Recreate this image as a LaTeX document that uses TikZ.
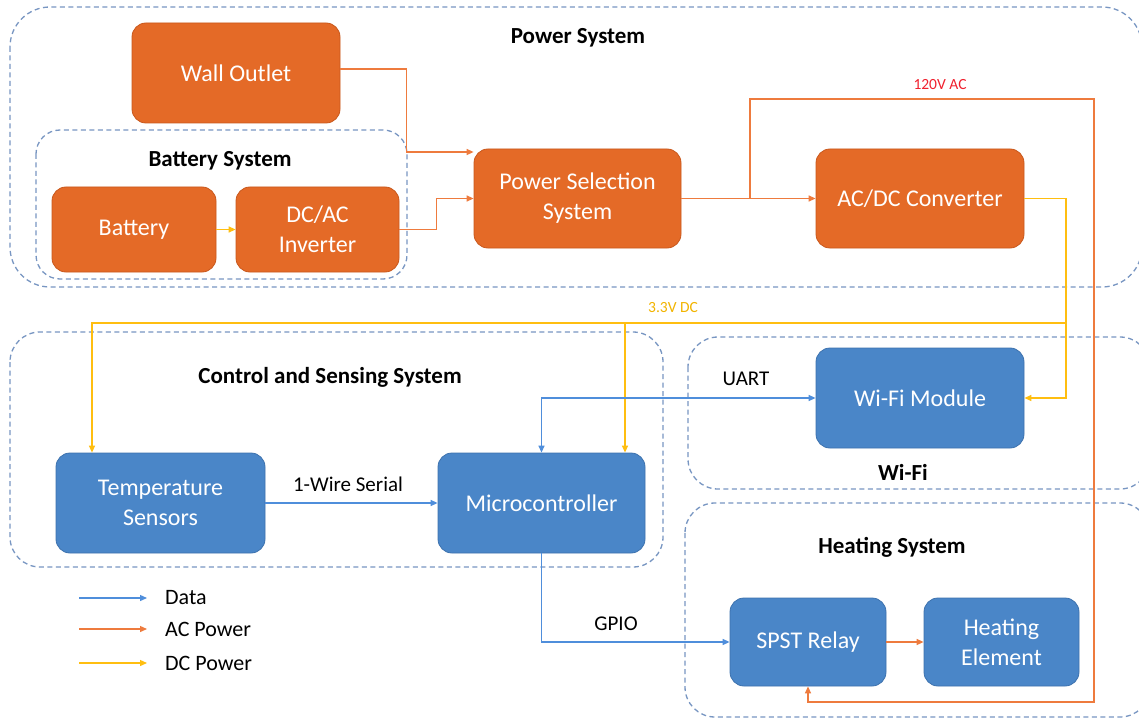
\documentclass[tikz,border=0pt]{standalone}
\usepackage{fontspec}
\setmainfont{Carlito}
\usepackage{tikz}
\usetikzlibrary{arrows.meta}
\definecolor{pfill}{HTML}{E46A27}
\definecolor{pedge}{HTML}{C9581C}
\definecolor{bfill}{HTML}{4A86C8}
\definecolor{bedge}{HTML}{3D72AE}
\definecolor{grpline}{HTML}{7896C2}
\definecolor{dline}{HTML}{4F8EDB}
\definecolor{aline}{HTML}{EE7B3E}
\definecolor{cline}{HTML}{FFBE10}
\definecolor{acred}{HTML}{F0202E}
\definecolor{dctext}{HTML}{F2B400}

\begin{document}
\begin{tikzpicture}[x=1pt,y=-1pt,
  grp/.style={draw=grpline,line width=1.3pt,dash pattern=on 5pt off 3.5pt,rounded corners=#1},
  grp/.default=30pt,
  blk/.style 2 args={rounded corners=14pt,align=center,text=white,inner sep=0pt,line width=0.8pt,
    minimum width=#1pt,minimum height=#2pt,font=\fontsize{24}{30}\selectfont},
  pbox/.style 2 args={blk={#1}{#2},draw=pedge,fill=pfill},
  bbox/.style 2 args={blk={#1}{#2},draw=bedge,fill=bfill},
  ttl/.style={font=\fontsize{23}{28}\selectfont\bfseries},
  lbl/.style={font=\fontsize{21}{25}\selectfont},
  lgd/.style={font=\fontsize{22}{26}\selectfont,anchor=west,inner sep=0pt},
  small/.style={font=\fontsize{15.5}{18}\selectfont},
  arr/.style={-{Triangle[length=7pt,width=6pt]}},
  data/.style={draw=dline,line width=1.3pt,arr},
  ac/.style={draw=aline,line width=1.3pt,arr},
  dc/.style={draw=cline,line width=1.3pt,arr}]
  \clip (0,0) rectangle (1139,719);
  \fill[white] (0,0) rectangle (1139,719);

  % groups
  \draw[grp=40pt] (10,7) rectangle (1142,287);
  \draw[grp=24pt] (36,130) rectangle (407,279);
  \draw[grp] (10,332) rectangle (663,567);
  \draw[grp] (688,337) rectangle (1150,489);
  \draw[grp] (685,503) rectangle (1150,717);

  \node[ttl] (tpow) at (578,38) {Power System};
  \node[ttl] (tbat) at (220,161) {Battery System};
  \node[ttl] (tcs) at (330,377) {Control and Sensing System};
  \node[ttl] (twifi) at (903,472) {Wi-Fi};
  \node[ttl] (theat) at (892,547) {Heating System};

  % blocks
  \node[pbox={208}{100}] (wall) at (236,73) {Wall Outlet};
  \node[pbox={164}{85}] (batt) at (134,229.5) {Battery};
  \node[pbox={163}{85}] (inv) at (317.5,229.5) {DC/AC\\Inverter};
  \node[pbox={207}{99}] (pss) at (577.5,198.5) {Power Selection\\System};
  \node[pbox={208}{99}] (acdc) at (920,198.5) {AC/DC Converter};
  \node[bbox={209}{100}] (temp) at (160.5,503) {Temperature\\Sensors};
  \node[bbox={207}{100}] (mcu) at (541.5,503) {Microcontroller};
  \node[bbox={208}{100}] (wifi) at (920,398) {Wi-Fi Module};
  \node[bbox={156}{88}] (relay) at (808,642) {SPST Relay};
  \node[bbox={155}{88}] (heat) at (1001.5,642) {Heating\\Element};

  \coordinate (split) at (750,198.5);
  \coordinate (acR) at (1094,99);
  \coordinate (acB) at (1094,702);
  \coordinate (dcR) at (1066,323);

  % AC power
  \draw[ac] ([yshift=4pt]wall.east) -- ++(66,0) |- ([yshift=46.5pt]pss.west);
  \draw[ac] (inv.east) -- ++(37,0) |- (pss.west);
  \draw[ac] (pss) -- (acdc);
  \draw[ac] (split) |- (acR) -- (acB) -| (relay.south);
  \draw[ac] (relay) -- (heat);
  \node[small,text=acred] (v120) at (940,85) {120V AC};

  % DC power
  \draw[dc] (batt) -- (inv);
  \draw[dc] (acdc.east) -| (dcR) |- (wifi.east);
  \draw[dc] (dcR) -| ([xshift=-68.5pt]temp.north);
  \draw[dc] (dcR) -| ([xshift=83.5pt]mcu.north);
  \node[small,text=dctext] (v33) at (673,308) {3.3V DC};

  % data
  \draw[data] (temp) -- (mcu);
  \node[lbl] (owire) at (348,484) {1-Wire Serial};
  \draw[data,{Triangle[length=7pt,width=6pt]}-{Triangle[length=7pt,width=6pt]}] (mcu.north) |- (wifi.west);
  \node[lbl] (uart) at (746,379) {UART};
  \draw[data] (mcu.south) |- (relay.west);
  \node[lbl] (gpio) at (616,624) {GPIO};

  % legend
  \foreach \nm/\st/\yy in {Data/data/598,AC Power/ac/629,DC Power/dc/663}{
    \node[lgd] (l\st) at (165,\yy) {\nm};
    \draw[\st] ([xshift=-86pt]l\st.west) -- ([xshift=-18pt]l\st.west);
  }
\end{tikzpicture}
\end{document}
